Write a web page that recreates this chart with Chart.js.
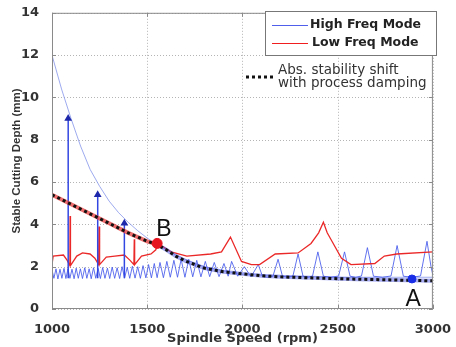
<!DOCTYPE html>
<html>
<head>
<meta charset="utf-8">
<script src="https://cdn.jsdelivr.net/npm/chart.js@4.4.1/dist/chart.umd.min.js"></script>
<style>
html, body { margin: 0; padding: 0; background: #fff; }
</style>
</head>
<body>
<canvas id="lobeChart" width="456" height="347"></canvas>
<script>
// Stability lobes - spindle speed vs stable cutting depth
const xTicks = [1000, 1500, 2000, 2500, 3000];
const yTicks = [0, 2, 4, 6, 8, 10, 12, 14];

// high freq mode lobes
const blueSpeed = [1000, 1010, 1021, 1031, 1042, 1052, 1063, 1073, 1084, 1094, 1105, 1116, 1127, 1138, 1149, 1160,
    1172, 1183, 1195, 1206, 1218, 1230, 1242, 1254, 1266, 1278, 1291, 1303, 1316, 1329, 1342, 1355, 1368, 1381,
    1395, 1408, 1422, 1436, 1450, 1464, 1478, 1493, 1507, 1522, 1537, 1552, 1567, 1585, 1603, 1621, 1640, 1659,
    1678, 1698, 1718, 1739, 1760, 1782, 1805, 1828, 1852, 1877, 1903, 1925, 1943, 1975, 2010, 2045, 2083, 2105,
    2130, 2160, 2187, 2210, 2240, 2265, 2292, 2318, 2345, 2368, 2396, 2425, 2465, 2505, 2536, 2565, 2595, 2625,
    2656, 2688, 2735, 2780, 2812, 2845, 2890, 2935, 2969, 2990, 3000];
const blueDepth = [1.85, 1.45, 1.9, 1.42, 1.88, 1.45, 1.92, 1.44, 1.9, 1.45, 1.88, 1.43, 1.93, 1.45, 1.9, 1.44,
    1.95, 1.45, 1.9, 1.43, 1.95, 1.45, 1.92, 1.44, 1.96, 1.45, 1.93, 1.44, 1.98, 1.45, 1.95, 1.44, 2.0, 1.46,
    1.97, 1.45, 2.02, 1.46, 2.0, 1.45, 2.05, 1.47, 2.1, 1.47, 2.15, 1.48, 2.2, 1.48, 2.25, 1.5, 2.3, 1.5,
    2.35, 1.5, 2.35, 1.52, 2.3, 1.52, 2.25, 1.53, 2.2, 1.53, 2.15, 1.55, 2.25, 1.55, 2.0, 1.52, 2.1, 1.55,
    1.5, 1.55, 2.35, 1.55, 1.5, 1.56, 2.6, 1.55, 1.5, 1.56, 2.7, 1.55, 1.5, 1.56, 2.7, 1.55, 1.5, 1.56,
    2.9, 1.55, 1.5, 1.56, 3.0, 1.55, 1.5, 1.56, 3.2, 2.0, 1.6];

// thin envelope of the high freq mode
const envSpeed = [1000, 1050, 1100, 1150, 1200, 1250, 1300, 1350, 1400, 1450, 1500, 1550, 1600, 1650, 1700, 1750,
    1800, 1900, 2000, 2200, 2500, 3000];
const envDepth = [12.0, 10.4, 9.0, 7.7, 6.6, 5.8, 5.1, 4.55, 4.1, 3.7, 3.35, 3.05, 2.8, 2.55, 2.35, 2.15,
    2.0, 1.8, 1.65, 1.55, 1.5, 1.5];

// vertical spikes of the high freq mode
const spikeSpeed = [1085, 1240, 1380];
const spikeBase = [1.45, 1.45, 1.45];
const spikeTop = [9.0, 5.4, 4.05];

// low freq mode
const redSpeed = [1000, 1000, 1006, 1060, 1080, 1094, 1095, 1097, 1130, 1160, 1200, 1225, 1245, 1247, 1250, 1285,
    1330, 1380, 1410, 1430, 1432, 1434, 1470, 1520, 1545, 1556, 1625, 1708, 1833, 1890, 1937, 1995, 2047, 2090,
    2172, 2292, 2360, 2400, 2425, 2445, 2470, 2520, 2570, 2695, 2745, 2810, 3000];
const redDepth = [5.4, 2.1, 2.5, 2.55, 2.3, 2.05, 4.4, 2.05, 2.5, 2.65, 2.6, 2.4, 2.1, 3.9, 2.1, 2.45,
    2.5, 2.55, 2.3, 2.1, 3.3, 2.1, 2.5, 2.6, 2.8, 3.1, 2.7, 2.5, 2.6, 2.7, 3.4, 2.25, 2.1, 2.1,
    2.6, 2.65, 3.1, 3.6, 4.1, 3.6, 3.2, 2.4, 2.1, 2.15, 2.5, 2.6, 2.7];

// absolute stability shift with process damping
const shiftSpeed = [1000, 1100, 1200, 1300, 1400, 1500, 1550, 1600, 1650, 1700, 1750, 1800, 1900, 2000, 2100,
    2200, 2400, 2600, 2800, 3000];
const shiftDepth = [5.4, 4.95, 4.5, 4.05, 3.6, 3.2, 3.05, 2.8, 2.5, 2.27, 2.1, 1.93, 1.76, 1.66, 1.57,
    1.52, 1.46, 1.41, 1.37, 1.33];

// marked points A and B
const markSpeed = [2890, 1552];
const markDepth = [1.42, 3.1];
const markText = ['A', 'B'];
const markTextSpeed = [2896, 1588];
const markTextDepth = [0.45, 3.76];

const zip = (xs, ys) => xs.map((x, i) => ({ x: x, y: ys[i] }));

const spikeData = [];
spikeSpeed.forEach((s, i) => {
    spikeData.push({ x: s, y: spikeBase[i] }, { x: s, y: spikeTop[i] }, { x: s, y: null });
});

// dotted matlab style grid
const dotGrid = {
    id: 'dotGrid',
    beforeDatasetsDraw(chart) {
        const c = chart.ctx, a = chart.chartArea;
        const xs = chart.scales.x, ys = chart.scales.y;
        c.save();
        c.strokeStyle = '#b4b4b4';
        c.lineWidth = 1;
        c.setLineDash([1, 2]);
        c.beginPath();
        xTicks.forEach(v => {
            const px = Math.round(xs.getPixelForValue(v)) + 0.5;
            c.moveTo(px, a.top); c.lineTo(px, a.bottom);
        });
        yTicks.forEach(v => {
            const py = Math.round(ys.getPixelForValue(v)) + 0.5;
            c.moveTo(a.left, py); c.lineTo(a.right, py);
        });
        c.stroke();
        c.restore();
    }
};

const frame = {
    id: 'frame',
    afterDraw(chart) {
        const c = chart.ctx, a = chart.chartArea;
        const xs = chart.scales.x, ys = chart.scales.y;
        c.save();
        c.strokeStyle = '#8a8a8a';
        c.lineWidth = 1;
        c.strokeRect(a.left + 0.5, a.top + 0.5, a.right - a.left - 1, a.bottom - a.top - 1);
        c.beginPath();
        xTicks.forEach(v => {
            const px = Math.round(xs.getPixelForValue(v)) + 0.5;
            c.moveTo(px, a.bottom); c.lineTo(px, a.bottom - 4);
            c.moveTo(px, a.top); c.lineTo(px, a.top + 4);
        });
        yTicks.forEach(v => {
            const py = Math.round(ys.getPixelForValue(v)) + 0.5;
            c.moveTo(a.left, py); c.lineTo(a.left + 4, py);
            c.moveTo(a.right, py); c.lineTo(a.right - 4, py);
        });
        c.stroke();

        // legend box
        c.fillStyle = '#fff';
        c.fillRect(265, 11, 171, 44);
        c.strokeStyle = '#777';
        c.strokeRect(265.5, 11.5, 171, 44);
        c.lineWidth = 1.2;
        c.strokeStyle = 'rgb(80,95,235)';
        c.beginPath(); c.moveTo(272, 25.5); c.lineTo(308, 25.5); c.stroke();
        c.strokeStyle = 'rgb(240,30,30)';
        c.beginPath(); c.moveTo(272, 43.5); c.lineTo(308, 43.5); c.stroke();
        c.fillStyle = '#222';
        c.font = 'bold 12.5px "DejaVu Sans"';
        c.textBaseline = 'middle';
        c.textAlign = 'left';
        c.fillText('High Freq Mode', 310, 25);
        c.fillText('Low Freq Mode', 312, 43);

        // dashed sample and text below the box
        c.strokeStyle = '#111';
        c.lineWidth = 3;
        c.setLineDash([3, 3]);
        c.beginPath(); c.moveTo(246, 77); c.lineTo(275, 77); c.stroke();
        c.setLineDash([]);
        c.font = '13.5px "DejaVu Sans"';
        c.fillStyle = '#333';
        c.fillText('Abs. stability shift', 278, 70);
        c.fillText('with process damping', 278, 83);

        // A / B labels
        c.font = '23px "Liberation Sans"';
        c.fillStyle = '#111';
        c.textAlign = 'center';
        markText.forEach((t, i) => {
            c.fillText(t, xs.getPixelForValue(markTextSpeed[i]), ys.getPixelForValue(markTextDepth[i]));
        });
        c.restore();
    }
};

const ctx = document.getElementById('lobeChart').getContext('2d');
const lobeChart = new Chart(ctx, {
    type: 'line',
    data: {
        datasets: [
            {
                label: 'envelope',
                data: zip(envSpeed, envDepth),
                borderColor: 'rgba(140,155,235,0.85)',
                borderWidth: 1,
                pointRadius: 0,
                order: 7
            },
            {
                label: 'High Freq Mode',
                data: zip(blueSpeed, blueDepth),
                borderColor: 'rgba(70,90,235,0.85)',
                borderWidth: 1,
                pointRadius: 0,
                order: 6
            },
            {
                label: 'Low Freq Mode',
                data: zip(redSpeed, redDepth),
                borderColor: 'rgb(235,40,40)',
                borderWidth: 1.3,
                pointRadius: 0,
                order: 5
            },
            {
                label: 'spikes',
                data: spikeData,
                borderColor: 'rgb(50,70,225)',
                borderWidth: 1.5,
                spanGaps: false,
                pointStyle: 'triangle',
                pointRadius: c => (c.dataIndex % 3 === 1 ? 3 : 0),
                pointBackgroundColor: 'rgb(30,40,170)',
                pointBorderColor: 'rgb(30,40,170)',
                order: 4
            },
            {
                label: 'shift backing',
                data: zip(shiftSpeed, shiftDepth),
                borderWidth: 4,
                pointRadius: 0,
                borderColor: 'rgba(235,60,60,0.8)',
                segment: {
                    borderColor: c => (c.p1.parsed.x <= 1560 ? 'rgba(235,60,60,0.75)' : 'rgba(80,90,230,0.5)')
                },
                order: 3
            },
            {
                label: 'Abs. stability shift',
                data: zip(shiftSpeed, shiftDepth),
                borderColor: '#111',
                borderWidth: 3,
                borderDash: [3, 3],
                pointRadius: 0,
                order: 2
            },
            {
                label: 'marks',
                data: zip(markSpeed, markDepth),
                showLine: false,
                pointRadius: [4, 5],
                pointBackgroundColor: ['rgb(25,45,230)', 'rgb(230,20,30)'],
                pointBorderColor: ['rgb(25,45,230)', 'rgb(230,20,30)'],
                order: 1
            }
        ]
    },
    options: {
        responsive: false,
        animation: false,
        devicePixelRatio: 1,
        layout: { padding: { top: 11, right: 20, left: 0, bottom: 0 } },
        plugins: { legend: { display: false }, tooltip: { enabled: false } },
        scales: {
            x: {
                type: 'linear',
                min: 1000,
                max: 3000,
                afterFit: s => { s.height = 38; },
                afterBuildTicks: s => { s.ticks = xTicks.map(v => ({ value: v })); },
                grid: { display: false },
                border: { display: false },
                ticks: {
                    padding: 5,
                    color: '#333',
                    callback: v => String(v),
                    font: { family: 'DejaVu Sans', weight: 'bold', size: 13 }
                },
                title: {
                    display: true,
                    text: 'Spindle Speed (rpm)',
                    color: '#333',
                    padding: { top: 0, bottom: 1 },
                    font: { family: 'DejaVu Sans', weight: 'bold', size: 13 }
                }
            },
            y: {
                min: 0,
                max: 14,
                afterFit: s => { s.width = 52; },
                afterBuildTicks: s => { s.ticks = yTicks.map(v => ({ value: v })); },
                grid: { display: false },
                border: { display: false },
                ticks: {
                    padding: 5,
                    color: '#333',
                    callback: v => String(v),
                    font: { family: 'DejaVu Sans', weight: 'bold', size: 13 }
                },
                title: {
                    display: true,
                    text: 'Stable Cutting Depth (mm)',
                    color: '#333',
                    padding: { top: 10, bottom: 0 },
                    font: { family: 'Liberation Sans', weight: 'bold', size: 11.5 }
                }
            }
        }
    },
    plugins: [dotGrid, frame]
});
</script>
</body>
</html>
